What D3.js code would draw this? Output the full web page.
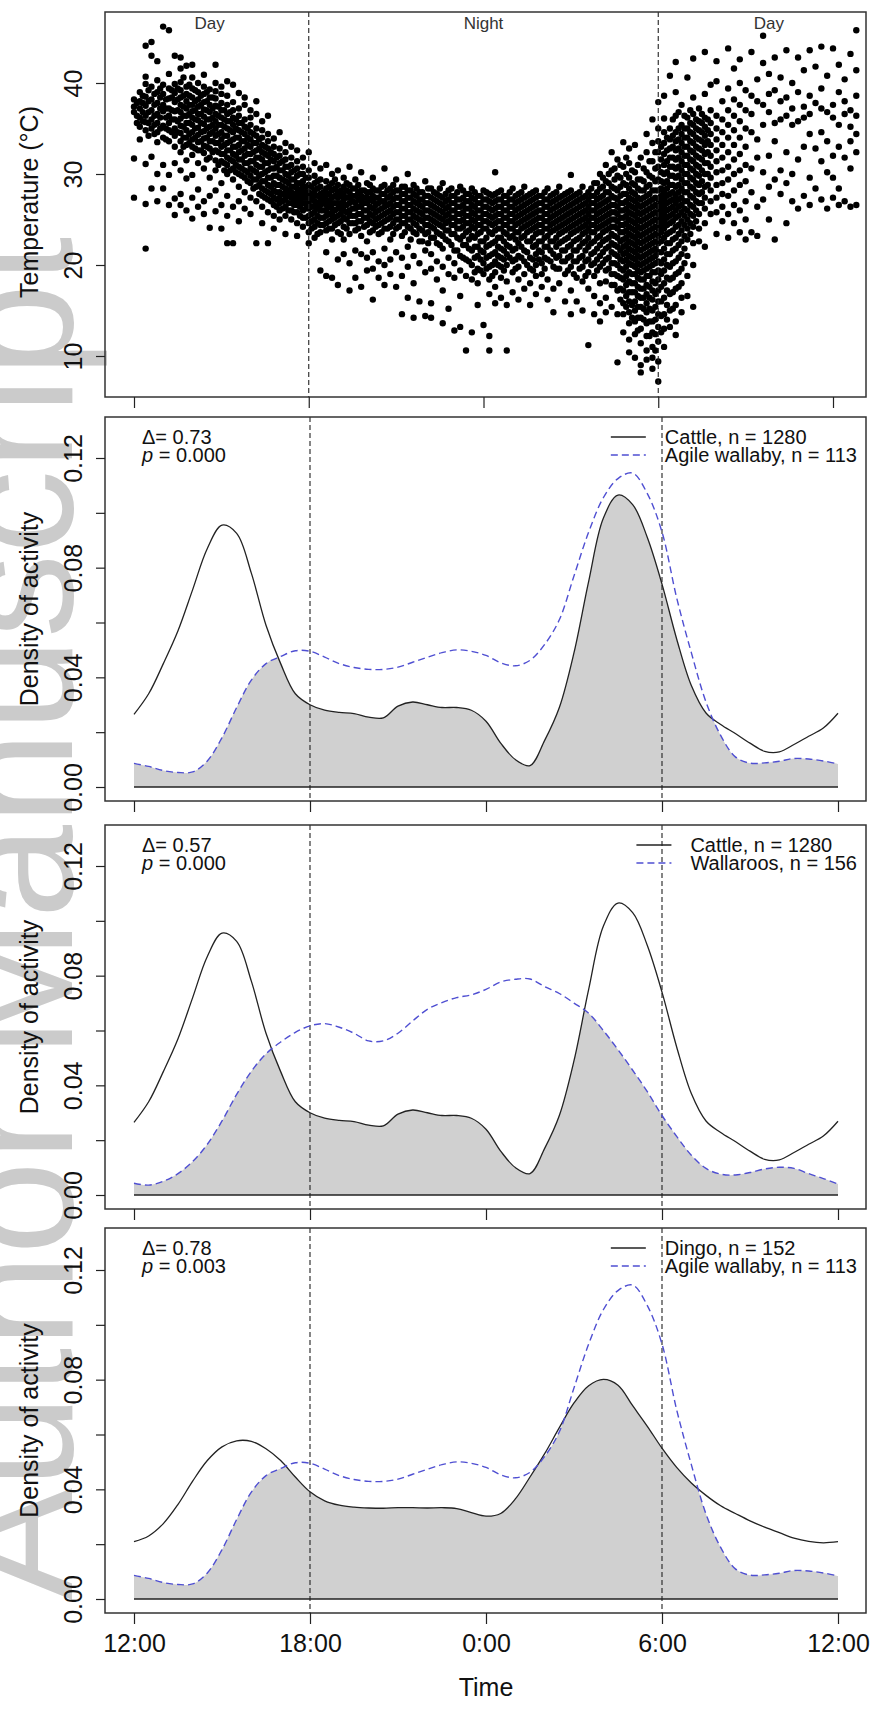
<!DOCTYPE html>
<html>
<head>
<meta charset="utf-8">
<script src="https://cdn.jsdelivr.net/npm/d3@7"></script>
<style>
  body { margin: 0; background: #fff; }
  svg { display: block; font-family: "Liberation Sans", Arial, sans-serif; }
</style>
</head>
<body>
<svg width="875" height="1712"></svg>
<script>
// ---- data ----
// hours after 12:00 (noon) at which the densities were read
const densityHours = [0,0.5,1,1.5,2,2.5,3,3.5,4,4.5,5,5.5,6,6.5,7,7.5,8,8.5,9,9.5,10,10.5,11,11.5,
  12,12.5,13,13.5,14,14.5,15,15.5,16,16.5,17,17.5,18,18.5,19,19.5,20,20.5,21,21.5,22,22.5,23,23.5,24];

const cattle = [.0265,.034,.045,.057,.072,.087,.0955,.0925,.078,.059,.045,.034,.030,.028,.0272,.0268,.0255,.0252,
  .0295,.031,.030,.029,.029,.028,.024,.016,.010,.0078,.017,.029,.049,.075,.098,.1065,.103,.091,.074,.054,.037,
  .027,.0228,.0195,.016,.013,.0128,.0155,.0185,.0215,.0269];

const agileWallaby = [.0086,.0075,.006,.0053,.0055,.0095,.018,.029,.039,.045,.0476,.0497,.0495,.0474,.045,.0436,
  .0429,.0429,.0437,.0455,.0473,.049,.050,.0495,.048,.0453,.0442,.0462,.052,.061,.077,.093,.1055,.1125,.1145,.107,
  .093,.069,.049,.031,.0188,.011,.0087,.0088,.0094,.0104,.0102,.0095,.0084];

const wallaroos = [.0043,.0036,.005,.0078,.0122,.0185,.027,.0367,.0451,.0515,.0558,.0593,.0617,.0625,.0612,.059,
  .0562,.0562,.059,.0635,.0677,.0702,.072,.073,.075,.0777,.0787,.0788,.076,.0735,.070,.0663,.060,.053,.0455,.0377,
  .029,.0214,.0145,.0097,.0076,.0073,.0082,.0095,.0101,.0097,.0078,.006,.004];

const dingo = [.0209,.023,.0275,.0345,.043,.0505,.0555,.0577,.0575,.0548,.0505,.0445,.0391,.0358,.0342,.0335,
  .0332,.0331,.0333,.0333,.0332,.0333,.033,.0315,.0302,.0312,.0365,.0445,.053,.0625,.0715,.0778,.0801,.078,.0705,
  .063,.055,.048,.0423,.0378,.034,.0312,.0285,.0262,.0242,.0222,.021,.0205,.0209];

// camera temperature readings: [hours after noon, [temperatures °C]]
const tempByHour = [
  [0.0, [38.2,37.4,36.8,31.7,27.4]],
  [0.2, [39.0,38.0,37.2,36.2,35.2,33.8]],
  [0.4, [44.1,40.7,39.9,38.5,37.5,36.4,35.7,34.8,31.1,26.7,21.8]],
  [0.6, [44.5,43.0,39.6,38.2,37.0,36.0,35.0,31.9,28.4]],
  [0.8, [42.4,40.3,39.0,37.8,36.6,35.6,34.6,33.5,30.0,27.0]],
  [1.0, [46.2,39.8,38.8,37.6,36.9,35.3,34.0,31.0,28.4]],
  [1.2, [45.8,41.0,39.4,38.3,37.2,36.4,35.6,34.8,33.6,29.9,26.6]],
  [1.4, [43.0,39.9,38.9,37.9,36.9,36.0,35.0,34.2,33.0,31.2,27.3,25.5]],
  [1.6, [42.8,41.6,40.1,39.2,38.4,37.6,36.8,36.1,35.3,34.5,33.6,32.4,30.4,27.8,26.6]],
  [1.8, [41.9,39.6,38.8,38.0,37.2,36.4,35.6,34.8,34.0,33.2,31.5,29.5,26.0]],
  [2.0, [42.0,40.6,39.4,38.4,37.6,36.9,36.2,35.4,34.6,33.8,33.0,32.1,29.9,27.4,25.1]],
  [2.2, [40.0,39.0,38.2,37.4,36.6,35.9,35.1,34.3,33.5,32.6,31.2,28.3,26.4]],
  [2.4, [40.9,39.6,38.8,37.9,37.1,36.3,35.5,34.7,33.9,33.1,32.3,30.6,27.0,25.6]],
  [2.6, [39.3,38.4,37.6,36.8,36.0,35.2,34.4,33.6,32.8,31.8,29.6,27.6,24.1]],
  [2.8, [42.0,40.0,39.1,38.3,37.5,36.6,35.8,35.0,34.2,33.4,32.6,31.5,30.4,28.2,25.9]],
  [3.0, [39.6,38.8,37.8,37.0,36.2,35.4,34.6,33.8,33.0,32.2,31.4,29.0,26.6,24.0]],
  [3.2, [40.2,38.6,37.6,36.6,35.8,35.0,34.2,33.4,32.6,31.8,31.0,30.0,27.6,25.4,22.4]],
  [3.4, [39.8,37.9,37.0,36.2,35.4,34.6,33.8,33.0,32.2,31.4,30.6,29.4,26.4,22.4]],
  [3.6, [38.9,37.2,36.4,35.6,34.8,34.0,33.2,32.4,31.6,30.8,30.0,28.6,27.0,24.8]],
  [3.8, [38.4,37.6,36.0,35.2,34.4,33.6,32.8,32.0,31.2,30.4,29.6,28.0,26.2]],
  [4.0, [37.0,36.2,35.4,34.6,33.8,33.0,32.2,31.4,30.6,29.8,29.0,27.4,25.6]],
  [4.2, [38.0,36.6,35.0,34.2,33.4,32.6,31.8,31.0,30.2,29.4,28.6,27.0,22.4]],
  [4.4, [35.8,34.8,34.0,33.2,32.4,31.6,30.8,30.0,29.2,28.4,27.6,26.4,24.6]],
  [4.6, [36.4,34.4,33.6,32.8,32.0,31.2,30.4,29.6,28.8,28.0,27.2,25.8,22.4]],
  [4.8, [33.9,33.0,32.2,31.4,30.6,29.8,29.0,28.2,27.4,26.6,25.4,24.0]],
  [5.0, [34.6,32.8,32.0,31.2,30.4,29.6,28.8,28.0,27.4,26.8,26.0,25.0]],
  [5.2, [33.4,32.4,31.6,30.8,30.0,29.2,28.4,27.8,27.2,26.4,25.4,23.4]],
  [5.4, [33.0,31.8,31.0,30.2,29.4,28.6,28.0,27.4,26.8,26.0,25.0]],
  [5.6, [32.6,31.4,30.6,29.8,29.0,28.4,27.8,27.2,26.6,25.8,24.6,23.2]],
  [5.8, [31.8,30.8,30.0,29.2,28.6,28.0,27.4,26.8,26.0,25.2,24.2]],
  [6.0, [32.4,30.4,29.6,28.8,28.0,27.4,26.8,26.2,25.4,24.6,23.6,22.4]],
  [6.2, [31.2,29.8,29.0,28.2,27.6,27.0,26.4,25.8,25.0,24.2,23.0]],
  [6.4, [30.6,29.4,28.6,27.8,27.2,26.6,26.0,25.2,24.4,23.6,19.4]],
  [6.6, [31.0,29.2,28.4,27.8,27.2,26.6,26.0,25.4,24.6,23.8,21.4,18.8]],
  [6.8, [30.0,29.0,28.2,27.4,26.8,26.2,25.6,25.0,24.0,22.8,18.6]],
  [7.0, [30.4,28.8,28.0,27.4,26.8,26.2,25.4,24.6,23.6,20.6,17.8]],
  [7.2, [29.6,28.6,27.8,27.2,26.6,26.0,25.2,24.2,22.8,21.2]],
  [7.4, [30.8,28.8,28.0,27.4,26.8,26.0,25.4,24.6,23.4,20.2,17.2]],
  [7.6, [29.4,28.4,27.6,26.8,26.2,25.4,24.6,23.8,21.6,18.6]],
  [7.8, [30.2,28.2,27.6,27.0,26.4,25.6,24.8,23.2,21.2,17.6]],
  [8.0, [29.0,28.0,27.4,26.8,26.0,25.2,24.4,22.6,20.8,19.4]],
  [8.2, [29.6,28.4,27.6,27.0,26.2,25.4,24.6,23.8,21.4,19.6,16.2]],
  [8.4, [28.2,27.4,26.8,26.0,25.2,24.4,23.4,20.4,18.6]],
  [8.6, [30.6,28.8,27.8,27.0,26.4,25.6,24.8,24.0,21.8,20.0,17.8]],
  [8.8, [28.4,27.6,26.8,26.0,25.2,24.2,22.8,20.6,19.0]],
  [9.0, [29.4,28.2,27.4,26.6,25.8,25.0,24.0,21.4,17.6]],
  [9.2, [28.6,27.8,27.0,26.2,25.4,24.6,23.2,20.8,18.8,14.6]],
  [9.4, [30.0,28.2,27.4,26.6,25.8,25.0,24.2,22.0,19.8,16.4]],
  [9.6, [28.8,27.8,27.0,26.2,25.4,24.6,23.6,21.0,18.0,14.2]],
  [9.8, [28.0,27.2,26.6,25.8,25.0,24.0,22.6,20.2,16.0]],
  [10.0, [29.2,27.6,26.8,26.0,25.2,24.4,23.4,21.6,19.2,14.4]],
  [10.2, [28.4,27.4,26.6,25.8,25.0,24.2,23.0,21.2,19.6,15.8,14.2]],
  [10.4, [27.8,27.0,26.2,25.4,24.6,23.6,22.4,20.4,18.4]],
  [10.6, [29.0,27.4,26.6,25.8,25.0,24.2,23.2,21.8,19.8,17.2,13.6]],
  [10.8, [28.2,27.2,26.4,25.6,24.8,23.8,22.6,20.8,19.0,15.2]],
  [11.0, [27.6,26.8,26.0,25.2,24.4,23.4,21.6,20.2,18.6,12.8]],
  [11.2, [28.6,27.2,26.4,25.6,24.8,24.0,22.8,21.0,19.4,16.6,13.2]],
  [11.4, [27.8,27.0,26.2,25.4,24.6,23.6,22.2,20.6,18.8,10.6]],
  [11.6, [28.4,27.4,26.6,25.8,25.0,24.2,23.2,21.6,20.0,18.4,12.6]],
  [11.8, [27.6,26.8,26.0,25.2,24.4,23.4,22.0,21.0,19.6,18.0,15.6]],
  [12.0, [28.2,27.2,26.4,25.6,24.8,24.0,22.6,21.4,20.2,19.0,13.4]],
  [12.2, [27.8,27.0,26.2,25.4,24.6,23.6,22.2,21.0,19.8,18.4,16.8,12.2,10.6]],
  [12.4, [30.2,27.8,27.0,26.2,25.4,24.6,23.8,22.6,21.4,20.4,19.2,17.6,15.8]],
  [12.6, [28.2,27.2,26.4,25.6,24.8,24.0,23.0,21.8,20.8,19.8,18.6,16.4]],
  [12.8, [27.6,26.8,26.0,25.2,24.4,23.4,22.2,21.2,20.0,18.2,15.6,10.6]],
  [13.0, [28.4,27.2,26.4,25.6,24.8,24.0,23.2,21.6,20.4,19.2,17.0]],
  [13.2, [27.8,27.0,26.2,25.4,24.6,23.6,22.4,21.0,19.8,18.4,16.2]],
  [13.4, [28.6,27.4,26.6,25.8,25.0,24.2,23.2,21.6,20.4,19.0,17.4]],
  [13.6, [27.8,27.0,26.2,25.4,24.6,23.8,22.6,20.8,19.6,18.0,15.6]],
  [13.8, [28.2,27.4,26.6,25.8,25.0,24.2,23.4,22.2,21.2,20.0,18.8,16.8]],
  [14.0, [27.6,26.8,26.0,25.2,24.4,23.6,22.6,21.4,20.2,19.0,17.6]],
  [14.2, [28.4,27.2,26.4,25.6,24.8,24.0,23.2,22.0,20.6,18.4,16.2]],
  [14.4, [27.8,27.0,26.2,25.4,24.6,23.8,22.6,21.2,19.8,17.4,14.8]],
  [14.6, [28.6,27.4,26.6,25.8,25.0,24.2,23.4,22.4,21.0,19.6,18.0]],
  [14.8, [27.8,27.0,26.2,25.4,24.6,23.8,22.8,21.6,20.4,19.0,16.0]],
  [15.0, [29.9,28.2,27.4,26.6,25.8,25.0,24.2,23.4,22.2,21.0,19.8,17.2,14.6]],
  [15.2, [27.8,27.0,26.2,25.4,24.6,23.8,22.8,21.6,20.4,18.6,16.0]],
  [15.4, [28.6,27.4,26.6,25.8,25.0,24.2,23.4,22.4,21.0,19.8,18.2,15.0]],
  [15.6, [28.0,27.2,26.4,25.6,24.8,24.0,23.0,22.0,20.6,19.2,17.4,11.2]],
  [15.8, [29.0,27.6,26.8,26.0,25.2,24.4,23.6,22.6,21.4,20.2,18.8,16.6,14.6]],
  [16.0, [30.0,28.4,27.4,26.6,25.8,25.0,24.2,23.2,22.2,21.0,19.8,18.0,15.8,13.8]],
  [16.2, [31.0,29.2,28.0,27.0,26.2,25.4,24.6,23.8,22.8,21.8,20.6,19.4,18.2,16.4,14.8]],
  [16.4, [32.4,30.4,28.6,27.6,26.6,25.8,25.0,24.2,23.4,22.4,21.4,20.2,19.0,17.8,15.4]],
  [16.6, [31.6,29.8,28.2,27.2,26.4,25.6,24.8,24.0,23.0,22.0,21.0,20.0,18.8,17.2,14.6,9.3]],
  [16.8, [33.5,30.8,29.0,27.8,26.8,26.0,25.2,24.4,23.6,22.8,22.0,21.2,20.4,19.4,18.4,17.2,15.8,14.6,12.6]],
  [17.0, [32.8,31.2,29.6,28.4,27.4,26.6,25.8,25.0,24.2,23.4,22.6,21.8,21.0,20.2,19.2,18.2,17.0,16.0,14.8,13.6,11.8,10.4]],
  [17.2, [33.2,30.2,28.8,27.8,27.0,26.2,25.4,24.6,23.8,23.0,22.2,21.4,20.6,19.8,19.0,18.0,17.0,16.0,15.0,13.8,12.4,9.8]],
  [17.4, [31.8,29.4,28.2,27.2,26.4,25.6,24.8,24.0,23.2,22.4,21.6,20.8,20.0,19.2,18.4,17.4,16.4,15.4,14.2,13.0,11.4,9.0,8.2]],
  [17.6, [34.4,32.4,30.2,28.6,27.6,26.8,26.0,25.2,24.4,23.6,22.8,22.0,21.2,20.4,19.6,18.8,17.8,16.8,15.8,14.8,13.6,12.2,10.6,9.6]],
  [17.8, [36.0,33.4,31.4,29.6,28.2,27.2,26.4,25.6,24.8,24.0,23.2,22.4,21.6,20.8,20.0,19.2,18.2,17.2,16.2,15.0,13.8,12.6,11.0,9.8,8.6]],
  [18.0, [37.9,35.0,33.6,32.4,30.8,29.4,28.2,27.2,26.4,25.6,24.8,24.0,23.2,22.4,21.4,20.4,19.4,18.4,17.2,16.0,14.6,13.2,11.6,9.4,7.2]],
  [18.2, [38.6,36.1,34.6,33.4,32.2,31.0,30.0,29.0,28.0,27.2,26.4,25.6,24.8,24.0,23.0,21.8,20.6,19.4,18.0,16.4,14.6,13.0,11.0]],
  [18.4, [40.8,35.0,33.8,32.8,31.8,30.8,29.8,28.8,27.8,27.0,26.2,25.4,24.6,23.6,22.4,21.2,19.8,18.4,16.8,15.0,13.2]],
  [18.6, [42.3,39.0,36.4,34.6,33.6,32.6,31.6,30.6,29.6,28.6,27.6,26.8,26.0,25.2,24.2,23.0,21.8,20.4,19.0,17.4,15.6,13.8,12.3]],
  [18.8, [37.6,35.4,34.4,33.4,32.4,31.4,30.4,29.4,28.4,27.4,26.6,25.8,24.8,23.8,22.6,21.2,19.6,18.0,16.4,14.8]],
  [19.0, [40.6,36.2,35.0,34.0,33.0,32.0,31.0,30.0,29.0,28.0,27.0,26.0,25.0,24.0,22.8,21.0,18.8,16.6]],
  [19.2, [42.7,38.4,36.6,35.4,34.4,33.4,32.4,31.4,30.4,29.4,28.4,27.4,26.4,25.4,24.2,22.4,20.0,15.4]],
  [19.4, [37.2,35.8,34.8,33.8,32.8,31.8,30.8,29.8,28.8,27.8,26.8,25.6,24.0,22.6]],
  [19.6, [43.4,38.8,36.2,35.2,34.2,33.2,32.2,31.2,30.0,28.6,27.4,26.2,24.6,22.0]],
  [19.8, [39.8,37.0,35.6,34.4,33.2,32.0,30.8,29.6,28.2,27.0,25.6]],
  [20.0, [42.4,40.2,36.4,35.0,33.8,32.6,31.4,30.2,28.8,27.4,25.8,23.4]],
  [20.2, [38.0,36.0,34.6,33.2,31.8,30.4,29.0,27.8,26.4,24.8]],
  [20.4, [43.8,39.4,37.0,35.4,34.0,32.4,30.8,29.4,27.6,25.6,23.0]],
  [20.6, [41.6,38.2,36.4,34.8,33.2,31.6,30.0,28.2,26.6,24.6]],
  [20.8, [42.6,40.0,37.6,35.8,34.0,32.2,30.4,28.8,26.0,23.6]],
  [21.0, [39.2,37.0,35.0,33.0,31.0,29.2,27.0,25.0,22.8]],
  [21.2, [43.4,38.6,36.6,34.6,30.6,28.0,23.6]],
  [21.4, [40.4,38.0,33.8,31.8,26.4,23.2]],
  [21.6, [45.2,42.2,37.6,35.4,30.2,27.2]],
  [21.8, [41.0,38.8,36.8,32.0,28.6,25.0]],
  [22.0, [42.8,39.2,35.6,33.6,29.4,22.8]],
  [22.2, [40.6,38.0,36.0,30.4,27.8]],
  [22.4, [43.6,38.4,36.4,32.4,29.0,24.6]],
  [22.6, [40.0,37.2,35.4,30.0,27.0]],
  [22.8, [42.8,39.0,35.8,31.6,26.2]],
  [23.0, [41.4,37.4,36.2,33.0,27.6]],
  [23.2, [43.6,38.6,36.6,34.4,29.6,26.6]],
  [23.4, [41.8,37.8,32.8,28.4]],
  [23.6, [44.0,39.4,37.2,34.6,31.4,27.2]],
  [23.8, [40.8,36.8,33.6,30.2,26.2]],
  [24.0, [43.8,37.6,36.2,32.0,29.6,27.4]],
  [24.2, [42.0,39.0,35.4,33.0,28.4,26.6]],
  [24.4, [40.4,38.0,36.6,31.8,27.0]],
  [24.6, [43.2,37.0,35.2,33.6,30.6,26.4]],
  [24.8, [45.8,41.4,38.6,36.4,34.4,32.4,26.6]]
];

// readings logged between the columns above
const tempByHourMid = [
  [0.1, [37.8,36.4,35.6]],
  [0.3, [38.6,37.8,36.8,35.8]],
  [0.5, [39.2,38.0,36.8,35.6,34.2]],
  [0.7, [38.8,37.6,36.4,35.4,34.4]],
  [0.9, [39.4,38.4,37.2,36.2,35.0]],
  [1.1, [38.2,37.2,36.2,35.0,33.8]],
  [1.3, [39.2,38.4,37.0,36.0,34.6]],
  [1.5, [39.4,38.2,37.0,35.8,34.6]],
  [1.7, [40.6,38.6,37.4,36.4,35.2,34.0,33.0]],
  [1.9, [39.8,38.6,37.6,36.6,35.6,34.4,33.4]],
  [2.1, [39.2,38.0,37.0,36.0,35.0,34.0,32.8]],
  [2.3, [38.6,37.6,36.6,35.6,34.6,33.6,32.6]],
  [2.5, [39.0,38.0,37.0,36.0,35.0,34.0,33.0,31.6]],
  [2.7, [38.4,37.2,36.2,35.4,34.6,33.6,32.4]],
  [2.9, [37.4,36.4,35.4,34.4,33.4,32.4,31.0]],
  [3.1, [37.0,36.0,35.2,34.2,33.2,32.2,31.2,30.4]],
  [3.3, [36.8,35.8,34.8,33.6,32.6,31.6,30.4]],
  [3.5, [36.0,35.0,34.0,33.0,32.0,31.0,30.2]],
  [3.7, [35.6,34.6,33.6,32.6,31.6,30.6,29.8]],
  [3.9, [35.0,34.0,33.2,32.2,31.2,30.2,29.2]],
  [4.1, [34.4,33.4,32.4,31.4,30.4,29.4,28.4]],
  [4.3, [33.8,32.8,31.8,30.8,29.8,28.8,27.8]],
  [4.5, [33.0,32.2,31.2,30.2,29.2,28.2,27.4]],
  [4.7, [32.4,31.6,30.6,29.6,28.6,27.8,27.0]],
  [4.9, [31.8,30.8,29.8,28.8,28.0,27.2,26.4]],
  [5.1, [31.4,30.4,29.4,28.6,27.8,27.0,26.2]],
  [5.3, [30.8,29.8,29.0,28.2,27.6,26.8,26.0]],
  [5.5, [30.4,29.4,28.6,27.8,27.2,26.6,25.8]],
  [5.7, [30.0,29.0,28.2,27.6,27.0,26.4,25.4]],
  [5.9, [29.6,28.6,28.0,27.4,26.8,26.2,25.2]],
  [6.1, [28.6,27.8,27.2,26.4,25.6,24.8,24.0]],
  [6.3, [29.2,28.4,27.6,26.8,26.2,25.4,24.6,23.4]],
  [6.5, [28.0,27.4,26.8,26.0,25.2,24.4]],
  [6.7, [28.6,27.8,27.0,26.4,25.6,24.8,24.0]],
  [6.9, [29.4,28.4,27.6,26.8,26.0,25.2,24.4]],
  [7.1, [28.2,27.6,26.8,26.2,25.6,24.8,23.4]],
  [7.3, [29.0,28.2,27.4,26.6,25.8,25.0,24.0]],
  [7.5, [28.4,27.6,27.0,26.2,25.4,24.6]],
  [7.7, [28.8,28.0,27.2,26.4,25.6,24.8,24.0]],
  [7.9, [28.2,27.4,26.8,26.0,25.2,24.2]],
  [8.1, [28.8,28.0,27.2,26.4,25.6,24.8,23.6]],
  [8.3, [28.2,27.4,26.6,25.8,25.0,24.2]],
  [8.5, [28.6,27.8,27.0,26.2,25.4,24.6,23.6]],
  [8.7, [28.2,27.4,26.6,25.8,25.0,24.0]],
  [8.9, [28.8,28.0,27.2,26.4,25.6,24.6,23.4]],
  [9.1, [28.2,27.4,26.6,25.8,25.0,24.2]],
  [9.3, [28.6,27.8,27.0,26.2,25.4,24.6,23.6]],
  [9.5, [28.2,27.4,26.6,25.8,25.0,24.0,22.8]],
  [9.7, [28.4,27.6,26.8,26.0,25.2,24.4,23.4]],
  [9.9, [28.0,27.2,26.4,25.6,24.8,23.8,22.6]],
  [10.1, [28.4,27.6,26.8,26.0,25.2,24.4,23.6,22.4]],
  [10.3, [28.0,27.2,26.4,25.6,24.8,24.0,23.0]],
  [10.5, [28.4,27.6,26.8,26.0,25.2,24.4,23.4,22.2]],
  [10.7, [27.8,27.0,26.2,25.4,24.6,23.8,22.8]],
  [10.9, [28.4,27.6,26.8,26.0,25.2,24.4,23.4,22.2]],
  [11.1, [28.0,27.2,26.4,25.6,24.8,24.0,23.0,21.6]],
  [11.3, [28.2,27.4,26.6,25.8,25.0,24.2,23.2,22.2,20.8]],
  [11.5, [27.8,27.0,26.2,25.4,24.6,23.8,22.8,21.8,20.4]],
  [11.7, [28.0,27.2,26.4,25.6,24.8,24.0,23.0,22.0,20.8,19.2]],
  [11.9, [27.6,26.8,26.0,25.2,24.4,23.6,22.6,21.6,20.6,19.4]],
  [12.1, [28.0,27.2,26.4,25.6,24.8,24.0,23.0,22.0,20.8,19.6]],
  [12.3, [27.6,26.8,26.0,25.2,24.4,23.4,22.4,21.2,20.0,18.8]],
  [12.5, [28.0,27.2,26.4,25.6,24.8,24.0,23.0,22.0,21.0,20.0]],
  [12.7, [27.6,26.8,26.0,25.2,24.4,23.6,22.6,21.6,20.6,19.4]],
  [12.9, [28.0,27.2,26.4,25.6,24.8,24.0,23.0,22.0,20.8]],
  [13.1, [27.6,26.8,26.0,25.2,24.4,23.6,22.8,21.8,20.6,19.6]],
  [13.3, [28.0,27.2,26.4,25.6,24.8,24.0,23.0,22.0,20.8]],
  [13.5, [27.6,26.8,26.0,25.2,24.4,23.6,22.6,21.4,20.0]],
  [13.7, [28.0,27.2,26.4,25.6,24.8,24.0,23.0,22.0,20.6,19.4]],
  [13.9, [27.6,26.8,26.0,25.2,24.4,23.6,22.6,21.6,20.6]],
  [14.1, [28.0,27.2,26.4,25.6,24.8,24.0,23.0,22.0,20.8,19.6]],
  [14.3, [27.6,26.8,26.0,25.2,24.4,23.6,22.6,21.6,20.4]],
  [14.5, [28.0,27.2,26.4,25.6,24.8,24.0,23.0,22.0,20.8,19.6]],
  [14.7, [27.6,26.8,26.0,25.2,24.4,23.6,22.6,21.6,20.4]],
  [14.9, [28.0,27.2,26.4,25.6,24.8,24.0,23.0,22.0,20.8,19.4]],
  [15.1, [27.6,26.8,26.0,25.2,24.4,23.6,22.6,21.6,20.4,19.0]],
  [15.3, [28.0,27.2,26.4,25.6,24.8,24.0,23.0,22.0,20.8,19.6]],
  [15.5, [27.6,26.8,26.0,25.2,24.4,23.6,22.6,21.6,20.4,18.8]],
  [15.7, [28.4,27.6,26.8,26.0,25.2,24.4,23.6,22.4,21.2,20.0]],
  [15.9, [29.0,28.0,27.2,26.4,25.6,24.8,24.0,23.0,21.8,20.6,19.4]],
  [16.1, [29.6,28.6,27.6,26.8,26.0,25.2,24.4,23.6,22.6,21.4,20.2]],
  [16.3, [30.0,29.0,28.0,27.2,26.4,25.6,24.8,24.0,23.0,22.0,20.8,19.6]],
  [16.5, [30.6,29.4,28.4,27.4,26.6,25.8,25.0,24.2,23.2,22.2,21.2,20.2,19.0,17.8]],
  [16.7, [31.0,29.6,28.6,27.6,26.8,26.0,25.2,24.4,23.6,22.6,21.6,20.6,19.6,18.6,17.4,16.2]],
  [16.9, [31.8,30.0,28.8,27.8,27.0,26.2,25.4,24.6,23.8,23.0,22.2,21.4,20.6,19.8,18.8,17.8,16.6,15.4]],
  [17.1, [30.4,29.0,28.0,27.2,26.4,25.6,24.8,24.0,23.2,22.4,21.6,20.8,20.0,19.0,18.0,17.0,15.6,14.2]],
  [17.3, [31.0,29.4,28.4,27.4,26.6,25.8,25.0,24.2,23.4,22.6,21.8,21.0,20.2,19.4,18.6,17.6,16.6,15.4,14.2,12.8]],
  [17.5, [30.6,29.2,28.2,27.4,26.6,25.8,25.0,24.2,23.4,22.6,21.8,21.0,20.2,19.4,18.4,17.4,16.4,15.2,14.0]],
  [17.7, [31.4,29.8,28.8,27.8,27.0,26.2,25.4,24.6,23.8,23.0,22.2,21.4,20.6,19.8,18.8,17.6,16.4,15.2,13.8,12.2]],
  [17.9, [32.4,30.6,29.2,28.2,27.4,26.6,25.8,25.0,24.2,23.4,22.6,21.8,21.0,20.2,19.2,18.0,16.8,15.4,14.0,12.4,10.6]],
  [18.1, [33.0,31.6,30.2,29.2,28.4,27.6,26.8,26.0,25.2,24.4,23.6,22.6,21.4,20.2,19.0,17.6,16.0,14.4,12.6]],
  [18.3, [34.0,32.6,31.4,30.2,29.2,28.4,27.6,26.8,26.0,25.2,24.4,23.4,22.4,21.2,20.0,18.6,17.2,15.6,14.0]],
  [18.5, [36.0,34.2,33.0,31.8,30.8,29.8,28.8,28.0,27.2,26.4,25.6,24.8,23.8,22.8,21.6,20.2,18.6,17.0,15.2]],
  [18.7, [36.8,35.0,33.8,32.8,31.8,30.8,29.8,28.8,28.0,27.2,26.4,25.4,24.4,23.4,22.2,20.8,19.2,17.6]],
  [18.9, [36.4,35.0,34.0,33.0,32.0,31.0,30.0,29.0,28.0,27.0,26.2,25.4,24.4,23.2,21.8,20.2]],
  [19.1, [37.0,35.6,34.6,33.6,32.6,31.6,30.6,29.6,28.6,27.6,26.6,25.6,24.6,23.4]],
  [19.3, [36.0,35.0,34.0,33.0,32.0,31.0,30.0,29.0,28.0,27.0,26.0,24.8]],
  [19.5, [36.6,35.6,34.6,33.6,32.6,31.6,30.4,29.2,28.0,26.8]],
  [19.7, [36.0,34.8,33.6,32.4,31.2,30.0,28.8]]
];

const timeTicks = [0, 6, 12, 18, 24];
const timeLabels = ['12:00', '18:00', '0:00', '6:00', '12:00'];
const nightBounds = [6, 18];
const tempTicks = [10, 20, 30, 40];
const densityTicks = [0, 0.02, 0.04, 0.06, 0.08, 0.10, 0.12];
const periodLabels = ['Day', 'Night', 'Day'];
const periodHours = [2.6, 12, 21.8];

const speciesA = [cattle, cattle, dingo];
const speciesB = [agileWallaby, wallaroos, agileWallaby];
const legendA = ['Cattle, n = 1280', 'Cattle, n = 1280', 'Dingo, n = 152'];
const legendB = ['Agile wallaby, n = 113', 'Wallaroos, n = 156', 'Agile wallaby, n = 113'];
const overlapDelta = ['0.73', '0.57', '0.78'];
const overlapP = ['0.000', '0.000', '0.003'];

// ---- layout ----
const svg = d3.select('svg');
const boxLeft = 105, boxRight = 866;
const topBox = {y0: 12, y1: 397};
const densityBoxes = [{y0: 417, y1: 801}, {y0: 825, y1: 1209}, {y0: 1228, y1: 1613}];
const ink = '#222';
const blue = '#4f4fd2';
const labelFont = '"Liberation Sans", Arial, sans-serif';

svg.append('rect').attr('width', 875).attr('height', 1712).attr('fill', '#fff');

// manuscript watermark, sits behind the figure
svg.append('text')
    .attr('transform', 'translate(72,1600) rotate(-90)')
    .attr('font-size', 168)
    .attr('fill', '#cbcbcb')
    .text('Author Manuscript');

const defs = svg.append('defs');

function styleLeftAxis(g) {
  g.select('.domain').remove();
  g.selectAll('line').attr('stroke', ink).attr('stroke-width', 1.2);
  g.selectAll('text').filter(function() { return !this.textContent; }).remove();
  g.selectAll('text')
      .attr('transform', 'rotate(-90)')
      .attr('x', 0).attr('y', -23).attr('dy', 0)
      .attr('text-anchor', 'middle')
      .attr('fill', '#111')
      .style('font-size', '25px')
      .style('font-family', labelFont);
}

function styleBottomAxis(g) {
  g.select('.domain').remove();
  g.selectAll('line').attr('stroke', ink).attr('stroke-width', 1.2);
  g.selectAll('text').filter(function() { return !this.textContent; }).remove();
  g.selectAll('text')
      .attr('y', 39).attr('dy', 0)
      .attr('fill', '#111')
      .style('font-size', '25px')
      .style('font-family', labelFont);
}

function drawBox(g, b) {
  g.append('rect')
      .attr('x', boxLeft).attr('y', b.y0)
      .attr('width', boxRight - boxLeft).attr('height', b.y1 - b.y0)
      .attr('fill', 'none').attr('stroke', '#333').attr('stroke-width', 1.5);
}

function nightLines(g, xs, b) {
  g.selectAll('line.night').data(nightBounds).join('line')
      .attr('class', 'night')
      .attr('x1', d => xs(d)).attr('x2', d => xs(d))
      .attr('y1', b.y0).attr('y2', b.y1)
      .attr('stroke', ink).attr('stroke-width', 1.1)
      .attr('stroke-dasharray', '5,3');
}

// ---- top panel: temperature ----
const xTop = d3.scaleLinear().domain([0, 24]).range([134, 833]);
const yTop = d3.scaleLinear().domain([10, 40]).range([356, 83]);
const gTop = svg.append('g');

const readings = tempByHour.concat(tempByHourMid)
    .flatMap(([h, temps]) => temps.map(T => ({h, T})));
gTop.append('g').selectAll('circle').data(readings).join('circle')
    .attr('cx', d => xTop(d.h))
    .attr('cy', d => yTop(d.T))
    .attr('r', 3.2)
    .attr('fill', '#000');

nightLines(gTop, xTop, topBox);

gTop.selectAll('text.period').data(periodLabels).join('text')
    .attr('class', 'period')
    .attr('x', (d, i) => xTop(periodHours[i]))
    .attr('y', 29)
    .attr('text-anchor', 'middle')
    .attr('font-size', 17)
    .attr('fill', '#333')
    .text(d => d);

drawBox(gTop, topBox);

gTop.append('g').attr('transform', `translate(${boxLeft},0)`)
    .call(d3.axisLeft(yTop).tickValues(tempTicks).tickSize(9).tickFormat(d3.format('d')))
    .call(styleLeftAxis);

gTop.append('g').attr('transform', `translate(0,${topBox.y1})`)
    .call(d3.axisBottom(xTop).tickValues(timeTicks).tickSize(11).tickFormat(''))
    .call(styleBottomAxis);

gTop.append('text')
    .attr('transform', 'translate(38,202) rotate(-90)')
    .attr('text-anchor', 'middle')
    .attr('font-size', 25)
    .attr('fill', '#111')
    .text('Temperature (°C)');

// ---- density panels ----
const x = d3.scaleLinear().domain([0, 24]).range([134, 838]);

densityBoxes.forEach((b, k) => {
  const g = svg.append('g');
  const base = b.y1 - 14;
  const y = d3.scaleLinear().domain([0, 0.12]).range([base, base - 329]);
  const a = speciesA[k], s = speciesB[k];

  const area = d3.area()
      .x((d, i) => x(densityHours[i]))
      .y0(y(0)).y1(d => y(d))
      .curve(d3.curveCatmullRom);
  const line = d3.line()
      .x((d, i) => x(densityHours[i]))
      .y(d => y(d))
      .curve(d3.curveCatmullRom);

  // overlap = area under both curves
  defs.append('clipPath').attr('id', 'under' + k)
    .append('path').attr('d', area(s));
  g.append('path')
      .attr('d', area(a))
      .attr('fill', '#d0d0d0')
      .attr('clip-path', `url(#under${k})`);

  g.append('line')
      .attr('x1', x(0)).attr('x2', x(24))
      .attr('y1', y(0)).attr('y2', y(0))
      .attr('stroke', ink).attr('stroke-width', 1.4);

  nightLines(g, x, b);

  g.append('path').attr('d', line(a))
      .attr('fill', 'none').attr('stroke', ink).attr('stroke-width', 1.3);
  g.append('path').attr('d', line(s))
      .attr('fill', 'none').attr('stroke', blue).attr('stroke-width', 1.4)
      .attr('stroke-dasharray', '7,4');

  drawBox(g, b);

  g.append('g').attr('transform', `translate(${boxLeft},0)`)
      .call(d3.axisLeft(y).tickValues(densityTicks).tickSize(9)
        .tickFormat((d, i) => i % 2 === 0 ? d3.format('.2f')(d) : ''))
      .call(styleLeftAxis);

  const last = k === densityBoxes.length - 1;
  g.append('g').attr('transform', `translate(0,${b.y1})`)
      .call(d3.axisBottom(x).tickValues(timeTicks).tickSize(11)
        .tickFormat((d, i) => last ? timeLabels[i] : ''))
      .call(styleBottomAxis);

  g.append('text')
      .attr('transform', `translate(38,${(b.y0 + b.y1) / 2}) rotate(-90)`)
      .attr('text-anchor', 'middle')
      .attr('font-size', 25)
      .attr('fill', '#111')
      .text('Density of activity');

  // overlap statistics
  g.append('text').attr('x', 142).attr('y', b.y0 + 27)
      .attr('font-size', 20).attr('fill', '#111')
      .text('\u0394= ' + overlapDelta[k]);
  const pt = g.append('text').attr('x', 142).attr('y', b.y0 + 45)
      .attr('font-size', 20).attr('fill', '#111');
  pt.append('tspan').attr('font-style', 'italic').text('p');
  pt.append('tspan').text(' = ' + overlapP[k]);

  // legend, right aligned like R's topright legend
  const lg = g.append('g');
  const labels = lg.selectAll('text').data([legendA[k], legendB[k]]).join('text')
      .attr('y', (d, i) => b.y0 + 27 + i * 18)
      .attr('font-size', 20).attr('fill', '#111')
      .text(d => d);
  const wMax = d3.max(labels.nodes(), n => n.getComputedTextLength());
  const tx = 857 - wMax;
  labels.attr('x', tx);
  lg.append('line')
      .attr('x1', tx - 54).attr('x2', tx - 19)
      .attr('y1', b.y0 + 20).attr('y2', b.y0 + 20)
      .attr('stroke', ink).attr('stroke-width', 1.3);
  lg.append('line')
      .attr('x1', tx - 54).attr('x2', tx - 19)
      .attr('y1', b.y0 + 38).attr('y2', b.y0 + 38)
      .attr('stroke', blue).attr('stroke-width', 1.4)
      .attr('stroke-dasharray', '7,4');

  if (last) {
    g.append('text')
        .attr('x', x(12)).attr('y', 1696)
        .attr('text-anchor', 'middle')
        .attr('font-size', 25)
        .attr('fill', '#111')
        .text('Time');
  }
});
</script>
</body>
</html>
